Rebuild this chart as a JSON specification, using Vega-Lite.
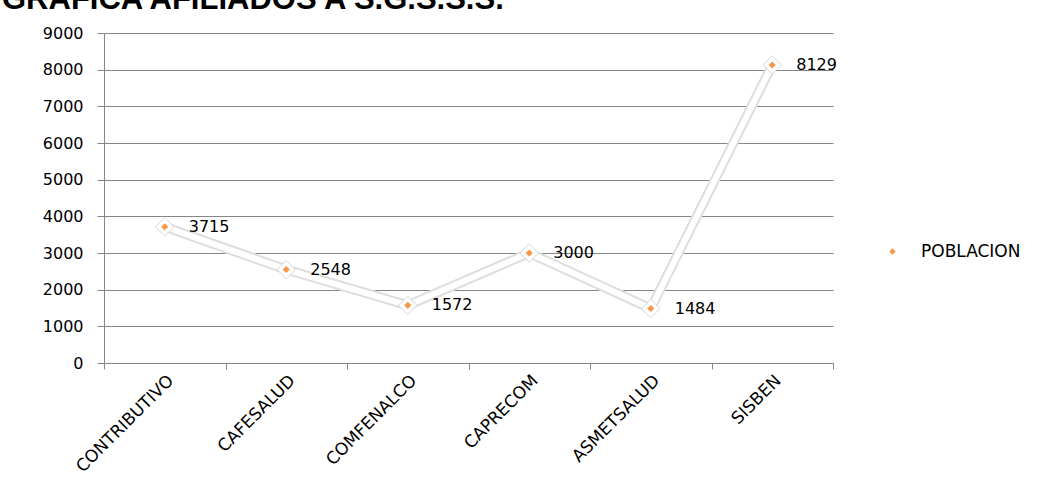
{
  "$schema": "https://vega.github.io/schema/vega-lite/v6.json",
  "description": "Grafica afiliados a S.G.S.S.S. por entidad",
  "autosize": "none",
  "width": 729,
  "height": 330,
  "padding": {"left": 104, "top": 33, "right": 206, "bottom": 122},
  "background": "white",
  "title": {
    "text": "GRAFICA AFILIADOS A S.G.S.S.S.",
    "anchor": "start",
    "frame": "group",
    "font": "Liberation Sans",
    "fontWeight": "bold",
    "fontSize": 31,
    "color": "black",
    "baseline": "bottom",
    "offset": 0,
    "dx": -102,
    "dy": 22
  },
  "data": {
    "values": [
      {"entidad": "CONTRIBUTIVO", "poblacion": 3715},
      {"entidad": "CAFESALUD", "poblacion": 2548},
      {"entidad": "COMFENALCO", "poblacion": 1572},
      {"entidad": "CAPRECOM", "poblacion": 3000},
      {"entidad": "ASMETSALUD", "poblacion": 1484},
      {"entidad": "SISBEN", "poblacion": 8129}
    ]
  },
  "encoding": {
    "x": {
      "field": "entidad",
      "type": "nominal",
      "sort": null,
      "scale": {"type": "band", "paddingInner": 0, "paddingOuter": 0},
      "axis": {
        "title": null,
        "tickBand": "extent",
        "labelAngle": -45,
        "labelFont": "DejaVu Sans",
        "labelFontSize": 17,
        "labelColor": "black",
        "labelPadding": 3,
        "tickSize": 6,
        "tickColor": "#868686",
        "domainColor": "#868686",
        "grid": false
      }
    },
    "y": {
      "field": "poblacion",
      "type": "quantitative",
      "scale": {"domain": [0, 9000], "nice": false},
      "axis": {
        "title": null,
        "values": [0, 1000, 2000, 3000, 4000, 5000, 6000, 7000, 8000, 9000],
        "format": "d",
        "labelFont": "DejaVu Sans",
        "labelFontSize": 16,
        "labelColor": "black",
        "labelPadding": 14,
        "tickSize": 7,
        "tickColor": "#868686",
        "domainColor": "#868686",
        "gridColor": "#868686",
        "gridOpacity": 1
      }
    }
  },
  "layer": [
    {"mark": {"type": "line", "color": "#dedede", "strokeWidth": 10, "strokeJoin": "round"}},
    {"mark": {"type": "line", "color": "white", "strokeWidth": 6, "strokeJoin": "round"}},
    {"mark": {"type": "point", "shape": "diamond", "filled": true, "color": "white", "stroke": "#d6d6d6", "strokeWidth": 1, "size": 340, "opacity": 1}},
    {
      "mark": {"type": "point", "shape": "diamond", "filled": true, "size": 50, "opacity": 1},
      "encoding": {
        "color": {
          "datum": "POBLACION",
          "scale": {"range": ["#F79646"]},
          "legend": {
            "title": null,
            "orient": "none",
            "legendX": 780,
            "legendY": 210,
            "labelFont": "DejaVu Sans",
            "labelFontSize": 17,
            "labelColor": "black",
            "labelOffset": 20,
            "symbolSize": 40,
            "symbolType": "diamond"
          }
        }
      }
    },
    {
      "mark": {"type": "text", "align": "left", "baseline": "middle", "dx": 24, "font": "DejaVu Sans", "fontSize": 16, "color": "black"},
      "encoding": {"text": {"field": "poblacion", "type": "quantitative", "format": "d"}}
    }
  ],
  "config": {
    "view": {"stroke": null}
  }
}
